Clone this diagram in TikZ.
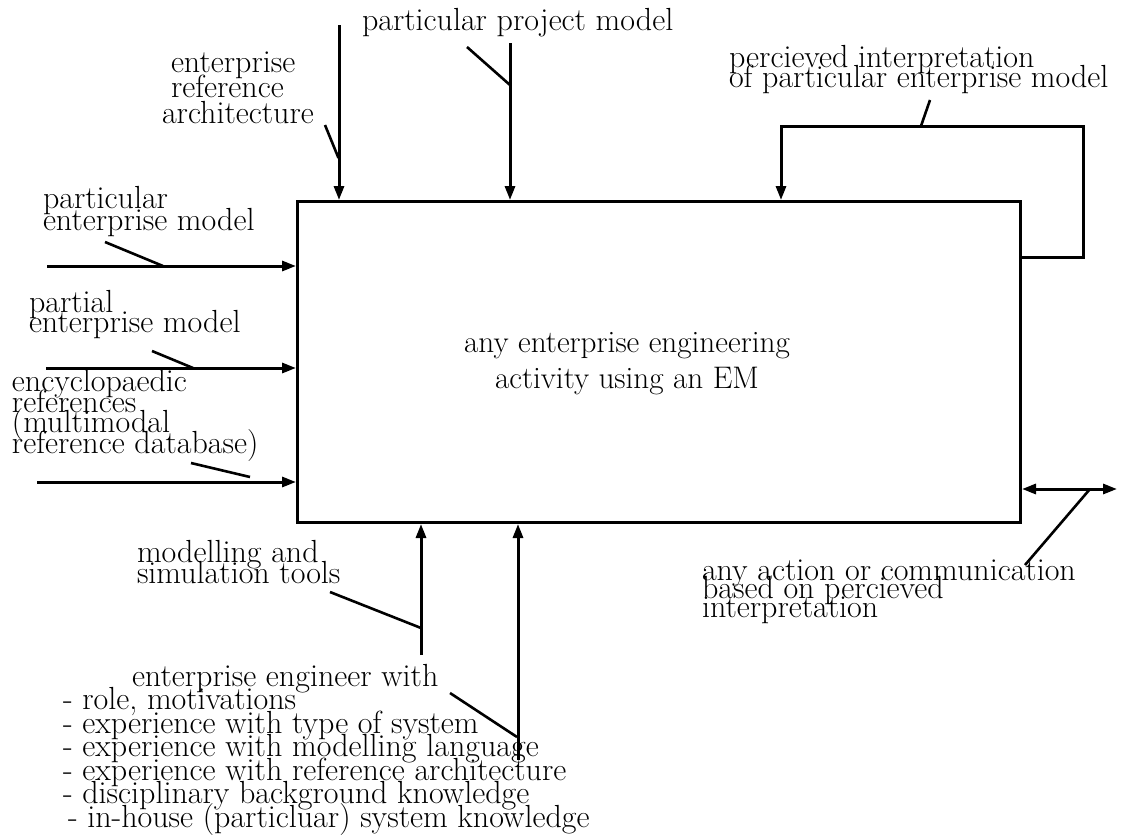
\documentclass[tikz,border=0pt]{standalone}
\usepackage{fontspec}
\usetikzlibrary{arrows.meta}
% let lines of a label sit closer than their letters would allow
\lineskiplimit=-100pt
\tikzset{
  lbl/.style={inner sep=0pt, outer sep=0pt, align=left, anchor=base west, font=\fontsize{32}{22}\selectfont},
  ls/.style={font=\fontsize{32}{#1}\selectfont},
  arr/.style={line width=3pt, -{Triangle[length=14pt,width=10pt]}},
  biarr/.style={line width=3pt, {Triangle[length=14pt,width=10pt]}-{Triangle[length=14pt,width=10pt]}},
  lead/.style={line width=2.6pt},
  activity/.style={draw, line width=3pt, inner sep=0pt, anchor=north west,
    minimum width=723pt, minimum height=321pt}
}
\begin{document}
\begin{tikzpicture}[x=1pt,y=-1pt]
\useasboundingbox (0,0) rectangle (1121,835);

% the activity box and its title (labels are placed by their last baseline)
\node[activity] (act) at (296,200) {};
\node[lbl, align=center, font=\fontsize{31.2}{36}\selectfont, anchor=base] (actt) at (627,388)
  {any enterprise engineering\\activity using an EM};

% labels
\node[lbl] (ppm) at (362,30) {particular project model};
\node[lbl, ls=25.5] (era) at (171,123)
  {enterprise\\reference\\\hspace*{-9pt}architecture};
\node[lbl, ls=19.5] (per) at (729,87)
  {percieved interpretation\\of particular enterprise model};
\node[lbl, ls=22] (pem) at (43,230)
  {particular\\enterprise model};
\node[lbl, ls=20] (pam) at (29,332)
  {partial\\enterprise model};
\node[lbl, ls=20.5] (enc) at (12,453)
  {encyclopaedic\\references\\(multimodal\\reference database)};
\node[lbl, ls=21] (mst) at (137,583)
  {modelling and\\simulation tools};
\node[lbl, ls=23.5] (eng) at (63,827)
  {\hspace*{69pt}enterprise engineer with\\
   - role, motivations\\
   - experience with type of system\\
   - experience with modelling language\\
   - experience with reference architecture\\
   - disciplinary background knowledge\\
   \hspace*{5pt}- in-house (particluar) system knowledge};
\node[lbl, ls=18.5] (aco) at (702,617)
  {any action or communication\\based on percieved\\interpretation};

% arrow start points
\coordinate (eraS) at (339,25);
\coordinate (ppmS) at (510,43);
\coordinate (pemS) at (47,266);
\coordinate (pamS) at (46,368);
\coordinate (encS) at (37,482);
\coordinate (mstS) at (421,655);
\coordinate (engS) at (518,760);
\coordinate (fbS) at (1019,257);
\coordinate (fbT) at (781,126);
\coordinate (outE) at (1117,489);

% inputs and controls
\draw[arr] (eraS) -- (eraS |- act.north);
\draw[arr] (ppmS) -- (ppmS |- act.north);
\draw[arr] (pemS) -- (pemS -| act.west);
\draw[arr] (pamS) -- (pamS -| act.west);
\draw[arr] (encS) -- (encS -| act.west);
\draw[arr] (mstS) -- (mstS |- act.south);
\draw[arr] (engS) -- (engS |- act.south);

% feedback of the perceived interpretation
\draw[arr] (fbS) -- (1083,257) |- (fbT) -- (fbT |- act.north);

% output
\draw[biarr] (outE -| act.east) -- (outE);

% leader lines from the labels to their arrows
\coordinate (eraA) at (325,125);   \coordinate (eraB) at (338.5,158);
\coordinate (ppmA) at (467,47);    \coordinate (ppmB) at (510,85);
\coordinate (perA) at (930,100);   \coordinate (perB) at (921,126);
\coordinate (pemA) at (105,242);   \coordinate (pemB) at (163,266);
\coordinate (pamA) at (152,351);   \coordinate (pamB) at (193,368);
\coordinate (encA) at (191,463);   \coordinate (encB) at (250,477);
\coordinate (mstA) at (330,592);   \coordinate (mstB) at (421,628);
\coordinate (engA) at (450,693);   \coordinate (engB) at (517,737);
\coordinate (acoA) at (1025,565);  \coordinate (acoB) at (1090,489);
\draw[lead] (eraA) -- (eraB);
\draw[lead] (ppmA) -- (ppmB);
\draw[lead] (perA) -- (perB);
\draw[lead] (pemA) -- (pemB);
\draw[lead] (pamA) -- (pamB);
\draw[lead] (encA) -- (encB);
\draw[lead] (mstA) -- (mstB);
\draw[lead] (engA) -- (engB);
\draw[lead] (acoA) -- (acoB);
\end{tikzpicture}
\end{document}
